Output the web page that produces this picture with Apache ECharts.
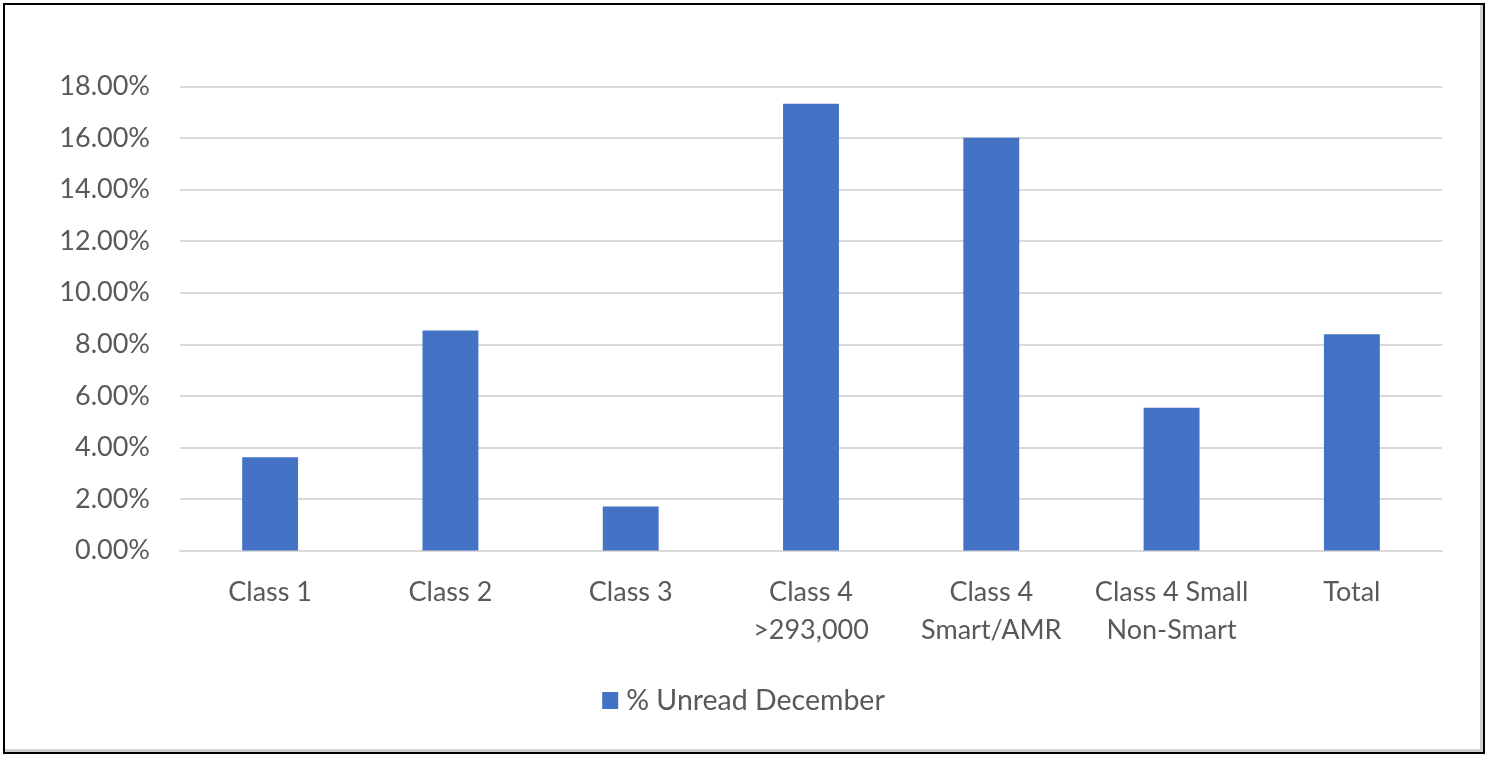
<!DOCTYPE html>
<html>
<head>
<meta charset="utf-8">
<script src="https://cdn.jsdelivr.net/npm/echarts@6/dist/echarts.min.js"></script>
<style>
html,body{margin:0;padding:0;background:#fff;}
#chart{position:absolute;left:0;top:0;width:1487px;height:757px;}
#frame{position:absolute;left:3px;top:3px;width:1478px;height:747px;border:2px solid #000;box-shadow:inset -3px -3px 0 #d0d0d0;pointer-events:none;}
</style>
</head>
<body>
<div id="chart"></div>
<div id="frame"></div>
<script>
const categories = ['Class 1','Class 2','Class 3','Class 4\n>293,000','Class 4\nSmart/AMR','Class 4 Small\nNon-Smart','Total'];
const unreadDecember = [3.62, 8.53, 1.71, 17.33, 16.01, 5.54, 8.39];
const seriesName = '% Unread December';
const yMin = 0, yMax = 18, yStep = 2;

const font = 'Lato, "Open Sans", sans-serif';
const chart = echarts.init(document.getElementById('chart'));
chart.setOption({
  animation: false,
  backgroundColor: '#fff',
  grid: {left: 180, right: 45, top: 86.5, bottom: 206.5, containLabel: false},
  legend: {
    data: [seriesName],
    bottom: 37,
    left: 'center',
    icon: 'rect',
    itemWidth: 16,
    itemHeight: 17,
    textStyle: {color: '#595959', fontSize: 28.5, fontFamily: font, padding: [0,0,0,3]}
  },
  xAxis: {
    type: 'category',
    data: categories,
    axisLine: {lineStyle: {color: '#d9d9d9', width: 2}},
    axisTick: {show: false},
    axisLabel: {color: '#595959', fontSize: 27, fontFamily: font, margin: 23, lineHeight: 38, interval: 0}
  },
  yAxis: {
    type: 'value',
    min: yMin, max: yMax, interval: yStep,
    axisLine: {show: false},
    axisTick: {show: false},
    splitLine: {lineStyle: {color: '#d9d9d9', width: 2}},
    axisLabel: {color: '#595959', fontSize: 27, fontFamily: font, margin: 30,
      formatter: v => v.toFixed(2) + '%'}
  },
  series: [{
    name: seriesName,
    type: 'bar',
    data: unreadDecember,
    barWidth: '31%',
    itemStyle: {color: '#4472c4'}
  }]
});
</script>
</body>
</html>
